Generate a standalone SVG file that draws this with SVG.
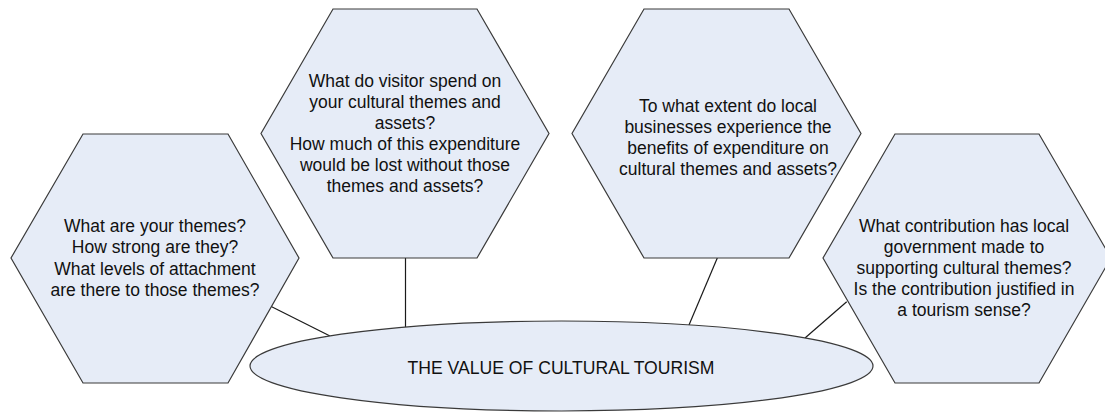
<svg xmlns="http://www.w3.org/2000/svg" width="1105" height="412" viewBox="0 0 1105 412">
<style>
.shape{fill:#E6ECF7;stroke:#3a3a3a;stroke-width:1.2}
.conn{stroke:#1a1a1a;stroke-width:1.2;fill:none}
.t{font-family:"Liberation Sans",Arial,sans-serif;font-size:17.5px;fill:#111;text-anchor:middle}
.tc{font-family:"Liberation Sans",Arial,sans-serif;font-size:17.6px;fill:#111;text-anchor:middle}
</style>
<rect width="1105" height="412" fill="#fff"/>
<g id="connectors">
<line class="conn" x1="271.7" y1="306.7" x2="330" y2="336"/>
<line class="conn" x1="405.5" y1="258" x2="405.5" y2="327"/>
<line class="conn" x1="717.3" y1="258" x2="689" y2="325"/>
<line class="conn" x1="846.7" y1="301.7" x2="805" y2="338"/>
</g>
<g id="hex-themes">
<polygon class="shape" points="83,134 228,134 299,258 228,383 83,383 11,258"/>
<text class="t" x="155" y="232">What are your themes?</text>
<text class="t" x="155" y="253">How strong are they?</text>
<text class="t" x="155" y="274.5">What levels of attachment</text>
<text class="t" x="155" y="296">are there to those themes?</text>
</g>
<g id="hex-spend">
<polygon class="shape" points="333,9 477,9 549,133.5 477,258 333,258 261,133.5"/>
<text class="t" x="405" y="86.5">What do visitor spend on</text>
<text class="t" x="405" y="107.5">your cultural themes and</text>
<text class="t" x="405" y="128.5">assets?</text>
<text class="t" x="405" y="149.5">How much of this expenditure</text>
<text class="t" x="405" y="170.5">would be lost without those</text>
<text class="t" x="405" y="191.5">themes and assets?</text>
</g>
<g id="hex-business">
<polygon class="shape" points="644,9 789,9 861,133.5 789,258 644,258 572,133.5"/>
<text class="t" x="728" y="112">To what extent do local</text>
<text class="t" x="728" y="133">businesses experience the</text>
<text class="t" x="728" y="154">benefits of expenditure on</text>
<text class="t" x="728" y="175">cultural themes and assets?</text>
</g>
<g id="hex-government">
<polygon class="shape" points="895,134 1039,134 1111,258 1039,383 895,383 823,258"/>
<text class="t" x="964" y="232">What contribution has local</text>
<text class="t" x="964" y="253">government made to</text>
<text class="t" x="964" y="274">supporting cultural themes?</text>
<text class="t" x="964" y="295">Is the contribution justified in</text>
<text class="t" x="964" y="316">a tourism sense?</text>
</g>
<g id="center">
<ellipse class="shape" cx="561.5" cy="366" rx="311.5" ry="45"/>
<text class="tc" x="561" y="374">THE VALUE OF CULTURAL TOURISM</text>
</g>
</svg>
